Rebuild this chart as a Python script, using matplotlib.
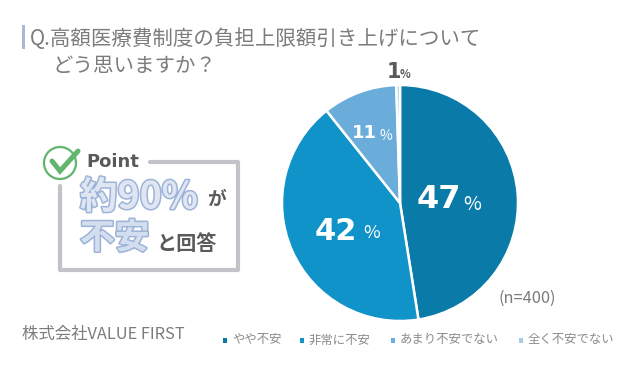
import matplotlib
matplotlib.use("Agg")
import matplotlib.pyplot as plt
import matplotlib.patheffects as pe
from matplotlib.patches import Circle, Rectangle

plt.rcParams["font.family"] = ["Noto Sans CJK JP", "DejaVu Sans"]

W, H = 640, 370

categories = ["やや不安", "非常に不安", "あまり不安でない", "全く不安でない"]
values = [47.5, 41.8, 10.2, 0.5]
labels = ["47", "42", "11", "1"]
colors = ["#0a7aa8", "#0f93c9", "#6aaddb", "#a9cde6"]
title_lines = ["Q.高額医療費制度の負担上限額引き上げについて", "どう思いますか？"]

TEXT = "#7c7c7c"
DARK = "#5a5a5a"
NUM = "DejaVu Sans"

fig = plt.figure(figsize=(W / 100, H / 100), dpi=100)

# pie
cx, cy, r = 400, 203, 118
pie_ax = fig.add_axes([(cx - r) / W, 1 - (cy + r) / H, 2 * r / W, 2 * r / H])
pie_ax.pie(
    values,
    colors=colors,
    startangle=90,
    counterclock=False,
    radius=1.0,
    wedgeprops={"edgecolor": "white", "linewidth": 1.8},
)
pie_ax.set_xlim(-1, 1)
pie_ax.set_ylim(-1, 1)

# overlay for text, drawn after the pie
bg = fig.add_axes([0, 0, 1, 1], zorder=5)
bg.set_xlim(0, W)
bg.set_ylim(H, 0)
bg.axis("off")

# title
bg.add_patch(Rectangle((22, 25), 3, 24, color="#a9b8d8", lw=0))
bg.text(30, 39, title_lines[0], fontsize=14.75, color=TEXT, va="center")
bg.text(52, 66, title_lines[1], fontsize=14.75, color=TEXT, va="center")

# slice labels
bg.text(387, 72, labels[3], fontsize=15, fontweight="bold", color=DARK, va="center", family=NUM)
bg.text(400, 75, "%", fontsize=8, fontweight="bold", color=DARK, va="center")
bg.text(352, 133, labels[2], fontsize=13, fontweight="bold", color="white", va="center", family=NUM)
bg.text(380, 136, "%", fontsize=10, color="white", va="center")
bg.text(417, 199, labels[0], fontsize=23, fontweight="bold", color="white", va="center", family=NUM)
bg.text(463, 205, "%", fontsize=14, color="white", va="center")
bg.text(315, 231, labels[1], fontsize=22, fontweight="bold", color="white", va="center", family=NUM)
bg.text(363, 233, "%", fontsize=13, color="white", va="center")

bg.text(498, 298, "(n=400)", fontsize=11.8, color=TEXT, va="center")
bg.text(22, 334, "株式会社VALUE FIRST", fontsize=11.8, color=TEXT, va="center")

# legend
leg_x = [224, 301, 392, 520]
for x, name, c in zip(leg_x, categories, colors):
    bg.add_patch(Rectangle((x - 1.5, 338), 4.5, 4.5, color=c, lw=0))
    bg.text(x + 8, 340, name, fontsize=8.9, color="#8a8a8a", va="center")

# point box
box = "#c2c2c8"
bg.plot([150, 238, 238, 60, 60], [162, 162, 270, 270, 186], color=box, lw=3,
        solid_joinstyle="round", solid_capstyle="round")

# check mark
bg.add_patch(Circle((60, 163), 16, fill=False, ec="#62b56f", lw=1.6))
bg.plot([52, 60, 78], [161, 171, 151], color="#62b56f", lw=3.6,
        solid_joinstyle="miter", solid_capstyle="round")
bg.text(86, 162, "Point", fontsize=13, fontweight="bold", color=DARK, va="center",
        family="DejaVu Sans")

# emphasis text
outline = [pe.withStroke(linewidth=2.2, foreground="#9db3d8")]
bg.text(80, 197, "約90%", fontsize=27, fontweight="bold", color="#dfe6f2", va="center",
        path_effects=outline)
bg.text(80, 238, "不安", fontsize=25, fontweight="bold", color="#d3deee", va="center",
        path_effects=outline)
bg.text(207, 199, "が", fontsize=13.5, fontweight="bold", color=DARK, va="center")
bg.text(156, 243, "と回答", fontsize=14.5, fontweight="bold", color=DARK, va="center")

fig.savefig("out.png", dpi=100)
